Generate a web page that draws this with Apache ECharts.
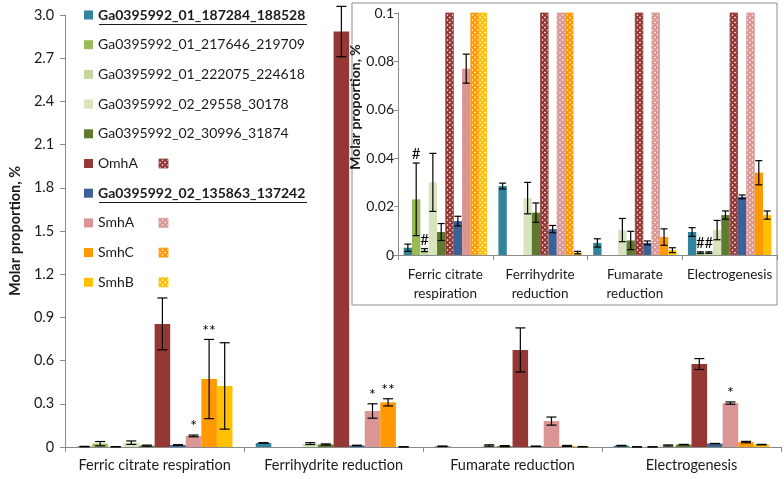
<!DOCTYPE html>
<html><head><meta charset="utf-8">
<script src="https://cdn.jsdelivr.net/npm/echarts@6/dist/echarts.min.js"></script>
<style>html,body{margin:0;padding:0;background:#fff}#c{width:784px;height:479px}</style>
</head><body><div id="c"></div>
<script>
// ---------- data ----------
const categories = ['Ferric citrate respiration', 'Ferrihydrite reduction', 'Fumarate reduction', 'Electrogenesis'];
const insetCategories = ['Ferric citrate\nrespiration', 'Ferrihydrite\nreduction', 'Fumarate\nreduction', 'Electrogenesis'];

const seriesNames = [
  'Ga0395992_01_187284_188528', 'Ga0395992_01_217646_219709', 'Ga0395992_01_222075_224618',
  'Ga0395992_02_29558_30178', 'Ga0395992_02_30996_31874', 'OmhA',
  'Ga0395992_02_135863_137242', 'SmhA', 'SmhC', 'SmhB'
];
const seriesColors = ['#31849B', '#9BBB59', '#C3D69B', '#D7E4BD', '#5F7A2E', '#953735', '#3A6296', '#DA9694', '#FF9900', '#FFC000'];
const boldNames = ['Ga0395992_01_187284_188528', 'Ga0395992_02_135863_137242'];
const hatchedLegendNames = ['OmhA', 'SmhA', 'SmhC', 'SmhB'];

const v_187284 = [0.003, 0.0285, 0.005, 0.0095];
const e_187284 = [0.0015, 0.0012, 0.0017, 0.0018];
const v_217646 = [0.023, 0, 0, 0.001];
const e_217646 = [0.015, 0, 0, 0.0003];
const v_222075 = [0.002, 0, 0, 0.001];
const e_222075 = [0.0006, 0, 0, 0.0003];
const v_29558 = [0.030, 0.0235, 0.0103, 0.0103];
const e_29558 = [0.012, 0.0065, 0.0048, 0.004];
const v_30996 = [0.0095, 0.0175, 0.006, 0.0165];
const e_30996 = [0.0035, 0.004, 0.0038, 0.0017];
const v_OmhA = [0.855, 2.885, 0.674, 0.576];
const e_OmhA = [0.18, 0.175, 0.153, 0.038];
const v_135863 = [0.014, 0.0107, 0.005, 0.024];
const e_135863 = [0.002, 0.0015, 0.0008, 0.0008];
const v_SmhA = [0.077, 0.25, 0.18, 0.305];
const e_SmhA = [0.006, 0.05, 0.028, 0.008];
const v_SmhC = [0.472, 0.31, 0.0074, 0.034];
const e_SmhC = [0.275, 0.025, 0.0034, 0.005];
const v_SmhB = [0.424, 0.001, 0.002, 0.0165];
const e_SmhB = [0.30, 0.0005, 0.001, 0.0017];

const allValues = [v_187284, v_217646, v_222075, v_29558, v_30996, v_OmhA, v_135863, v_SmhA, v_SmhC, v_SmhB];
const allErrors = [e_187284, e_217646, e_222075, e_29558, e_30996, e_OmhA, e_135863, e_SmhA, e_SmhC, e_SmhB];

// significance marks: [series index, category index, text]
const mainMarks = [[7, 0, '*'], [8, 0, '**'], [7, 1, '*'], [8, 1, '**'], [7, 3, '*']];
const insetMarks = [[1, 0, '#'], [2, 0, '#'], [1, 3, '#'], [2, 3, '#']];

const mainYMax = 3.0, mainYInterval = 0.3;
const insetYMax = 0.1, insetYInterval = 0.02;

// ---------- helpers ----------
const FONT = 'Lato, "Open Sans", sans-serif';
const TXT = '#1a1a1a';
const N = seriesNames.length;
const MAIN_GAP = 0.13, INSET_GAP = 0.12;

function hatchCanvas(color) {
  const c = document.createElement('canvas');
  c.width = 5; c.height = 5;
  const g = c.getContext('2d');
  g.fillStyle = '#ffffff'; g.fillRect(0, 0, 5, 5);
  g.strokeStyle = color; g.lineWidth = 2.2;
  g.beginPath();
  g.moveTo(-1, -1); g.lineTo(6, 6);
  g.moveTo(6, -1); g.lineTo(-1, 6);
  g.stroke();
  return c;
}
const hatchPatterns = seriesColors.map(c => ({ image: hatchCanvas(c), repeat: 'repeat' }));

function markMap(marks) {
  const m = {};
  marks.forEach(([s, c, t]) => { m[s + '_' + c] = t; });
  return m;
}

function errData() {
  const d = [];
  for (let s = 0; s < N; s++) for (let c = 0; c < categories.length; c++) {
    if (allValues[s][c] > 0) d.push([c, allValues[s][c], allErrors[s][c], s]);
  }
  return d;
}

function makeErrRender(gapRatio, capHalf, ymax, marks, markFont) {
  const mm = markMap(marks);
  return function (params, api) {
    const c = api.value(0), v = api.value(1), e = api.value(2), s = api.value(3);
    if (v > ymax) return;
    const band = api.size([1, 0])[0];
    const inner = band * (1 - gapRatio);
    const bw = inner / N;
    const cx = api.coord([c, 0])[0] - inner / 2 + bw * (s + 0.5);
    const yt = api.coord([c, v + e])[1];
    const yb = api.coord([c, Math.max(v - e, 0)])[1];
    const ls = { stroke: '#000', lineWidth: 1.2 };
    const children = [
      { type: 'line', shape: { x1: cx, y1: yt, x2: cx, y2: yb }, style: ls },
      { type: 'line', shape: { x1: cx - capHalf, y1: yt, x2: cx + capHalf, y2: yt }, style: ls },
      { type: 'line', shape: { x1: cx - capHalf, y1: yb, x2: cx + capHalf, y2: yb }, style: ls }
    ];
    const t = mm[s + '_' + c];
    if (t) {
      children.push({ type: 'text', style: { text: t, x: cx, y: yt - 1, align: 'center', verticalAlign: 'bottom', font: markFont, fill: '#000' } });
    }
    return { type: 'group', children };
  };
}

// ---------- series ----------
const series = [];
seriesNames.forEach((name, s) => {
  series.push({
    name, type: 'bar', xAxisIndex: 0, yAxisIndex: 0,
    data: allValues[s], barGap: '0%', barCategoryGap: (MAIN_GAP * 100) + '%',
    itemStyle: { color: seriesColors[s] }, z: 2
  });
});
seriesNames.forEach((name, s) => {
  series.push({
    name, type: 'bar', xAxisIndex: 1, yAxisIndex: 1,
    data: allValues[s].map(v => v > insetYMax
      ? { value: v, itemStyle: { color: hatchPatterns[s], borderColor: seriesColors[s], borderWidth: 0.8 } }
      : v),
    barGap: '0%', barCategoryGap: (INSET_GAP * 100) + '%',
    itemStyle: { color: seriesColors[s] }, clip: true, z: 2
  });
});
series.push({
  type: 'custom', xAxisIndex: 0, yAxisIndex: 0, data: errData(), z: 5, silent: true,
  renderItem: makeErrRender(MAIN_GAP, 5, mainYMax, mainMarks, '16px ' + FONT), clip: false
});
series.push({
  type: 'custom', xAxisIndex: 1, yAxisIndex: 1, data: errData(), z: 5, silent: true,
  renderItem: makeErrRender(INSET_GAP, 3.5, insetYMax, insetMarks, '15px ' + FONT), clip: false
});

// ---------- graphics: legend decorations + inset frame ----------
const LEG_TOP = 15, LEG_STEP = 29.7;
const graphics = [
  { type: 'rect', z: -10, shape: { x: 352, y: 3, width: 425, height: 302 }, style: { fill: '#fff', stroke: '#8c8c8c', lineWidth: 1 } }
];
boldNames.forEach(n => {
  const i = seriesNames.indexOf(n);
  const y = Math.round(LEG_TOP + i * LEG_STEP + 8.5) + 0.5;
  graphics.push({ type: 'line', shape: { x1: 99, y1: y, x2: 307, y2: y }, style: { stroke: '#1a1a1a', lineWidth: 1.2 } });
});
hatchedLegendNames.forEach(n => {
  const i = seriesNames.indexOf(n);
  const y = LEG_TOP + i * LEG_STEP - 4.5;
  graphics.push({ type: 'rect', shape: { x: 159, y: y, width: 9, height: 9 }, style: { fill: hatchPatterns[i], stroke: seriesColors[i], lineWidth: 0.8 } });
});

const axisLineGray = { lineStyle: { color: '#8a8a8a', width: 1 } };

const option = {
  animation: false,
  backgroundColor: '#fff',
  textStyle: { fontFamily: FONT },
  legend: {
    orient: 'vertical', left: 84, top: LEG_TOP - 8, padding: 0,
    itemWidth: 9, itemHeight: 9, itemGap: LEG_STEP - 16,
    icon: 'rect',
    textStyle: { fontFamily: FONT, fontSize: 14, color: TXT, lineHeight: 16 },
    data: seriesNames.map(n => boldNames.includes(n) ? { name: n, textStyle: { fontWeight: 'bold' } } : { name: n }),
    selectedMode: false
  },
  grid: [
    { left: 61, right: 3, top: 15, bottom: 32 },
    { left: 398, right: 7, top: 13, bottom: 224 }
  ],
  xAxis: [
    {
      type: 'category', gridIndex: 0, data: categories,
      axisLine: axisLineGray, axisTick: { show: true, length: 5, lineStyle: { color: '#8a8a8a' } },
      axisLabel: { fontSize: 14.5, color: TXT, margin: 11, fontFamily: FONT, interval: 0 }
    },
    {
      type: 'category', gridIndex: 1, data: insetCategories,
      axisLine: axisLineGray, axisTick: { show: true, length: 5, lineStyle: { color: '#8a8a8a' } },
      axisLabel: { fontSize: 13.5, color: TXT, margin: 10, lineHeight: 19, fontFamily: FONT, interval: 0 }
    }
  ],
  yAxis: [
    {
      type: 'value', gridIndex: 0, min: 0, max: mainYMax, interval: mainYInterval,
      axisLine: { show: true, lineStyle: { color: '#8a8a8a' } },
      axisTick: { show: true, length: 5, lineStyle: { color: '#8a8a8a' } },
      splitLine: { show: false },
      axisLabel: { fontSize: 14.5, color: TXT, margin: 11, fontFamily: FONT, formatter: v => v === 0 ? '0' : v.toFixed(1) },
      name: 'Molar proportion, %', nameLocation: 'middle', nameGap: 38,
      nameTextStyle: { fontWeight: 'bold', fontSize: 14.5, color: TXT, fontFamily: FONT }
    },
    {
      type: 'value', gridIndex: 1, min: 0, max: insetYMax, interval: insetYInterval,
      axisLine: { show: true, lineStyle: { color: '#8a8a8a' } },
      axisTick: { show: true, length: 4, lineStyle: { color: '#8a8a8a' } },
      splitLine: { show: false },
      axisLabel: { fontSize: 14, color: TXT, margin: 4, fontFamily: FONT, formatter: v => v === 0 ? '0' : String(+v.toFixed(2)) },
      name: 'Molar proportion, %', nameLocation: 'middle', nameGap: 34,
      nameTextStyle: { fontWeight: 'bold', fontSize: 14, color: TXT, fontFamily: FONT, padding: [0, 0, 0, 54] }
    }
  ],
  graphic: { elements: graphics },
  series
};

const chart = echarts.init(document.getElementById('c'), null, { renderer: 'canvas' });
chart.setOption(option);
</script>
</body></html>
